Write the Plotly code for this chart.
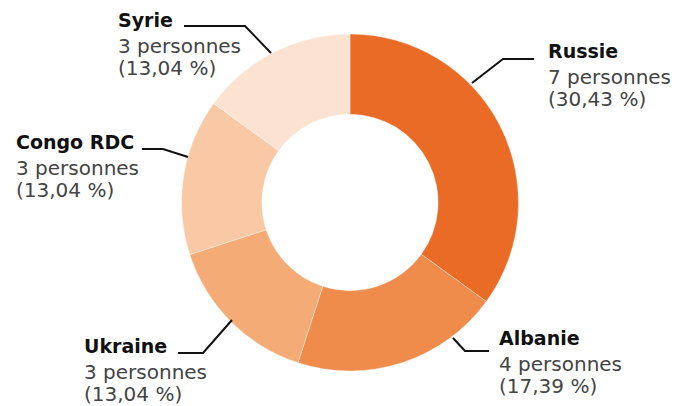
import plotly.graph_objects as go

countries = ["Russie", "Albanie", "Ukraine", "Congo RDC", "Syrie"]
persons = [7, 4, 3, 3, 3]
percent_labels = ["30,43 %", "17,39 %", "13,04 %", "13,04 %", "13,04 %"]
colors = ["#EA6B26", "#F08C4B", "#F4AB76", "#F8C9A4", "#FCE3D1"]

W, H = 686, 406
# donut geometry (px)
CX, CY, R = 350, 202.5, 168.5

fig = go.Figure(go.Pie(
    labels=countries, values=persons, sort=False, direction="clockwise",
    rotation=0, hole=0.523, textinfo="none", hoverinfo="skip",
    marker=dict(colors=colors, line=dict(color="rgba(255,255,255,0.6)", width=0.6)),
    domain=dict(x=[(CX - R) / W, (CX + R) / W], y=[1 - (CY + R) / H, 1 - (CY - R) / H]),
    showlegend=False,
))

# label placement (px): left x, baseline y of the title line
label_pos = {
    "Russie": (546, 58),
    "Albanie": (497, 345),
    "Ukraine": (82, 353),
    "Congo RDC": (14, 149),
    "Syrie": (116, 27),
}
LINE_OFFSETS = [0, 25, 47]
# leader lines (px)
leaders = {
    "Russie": [(472, 83), (503, 59), (534, 59)],
    "Albanie": [(453, 338), (465, 351), (489, 351)],
    "Ukraine": [(232, 320), (203, 353), (178, 353)],
    "Congo RDC": [(188, 157), (163, 149), (142, 149)],
    "Syrie": [(271, 53), (245, 26), (184, 26)],
}

def px(x, y):
    return x / W, 1 - y / H

for name, n, pct in zip(countries, persons, percent_labels):
    x, base = label_pos[name]
    lines = [
        (f"<b>{name}</b>", 19, "#111111"),
        (f"{n} personnes", 20, "#444444"),
        (f"({pct})", 20, "#444444"),
    ]
    for (txt, size, col), off in zip(lines, LINE_OFFSETS):
        fx, fy = px(x, base + off - 20)
        fig.add_annotation(
            x=fx, y=fy, xref="paper", yref="paper", xanchor="left", yanchor="top",
            showarrow=False, align="left", text=txt,
            font=dict(family="DejaVu Sans", size=size, color=col),
        )
    pts = leaders[name]
    path = "M " + " L ".join(f"{px(a, b)[0]} {px(a, b)[1]}" for a, b in pts)
    fig.add_shape(type="path", path=path, xref="paper", yref="paper",
                  line=dict(color="#111111", width=2))

fig.update_layout(
    width=W, height=H, margin=dict(l=0, r=0, t=0, b=0),
    paper_bgcolor="white", plot_bgcolor="white",
)
fig.write_html(
    "out.html",
    config={"displayModeBar": False},
    post_script="document.body.style.margin='0';document.body.style.overflow='hidden';",
)
